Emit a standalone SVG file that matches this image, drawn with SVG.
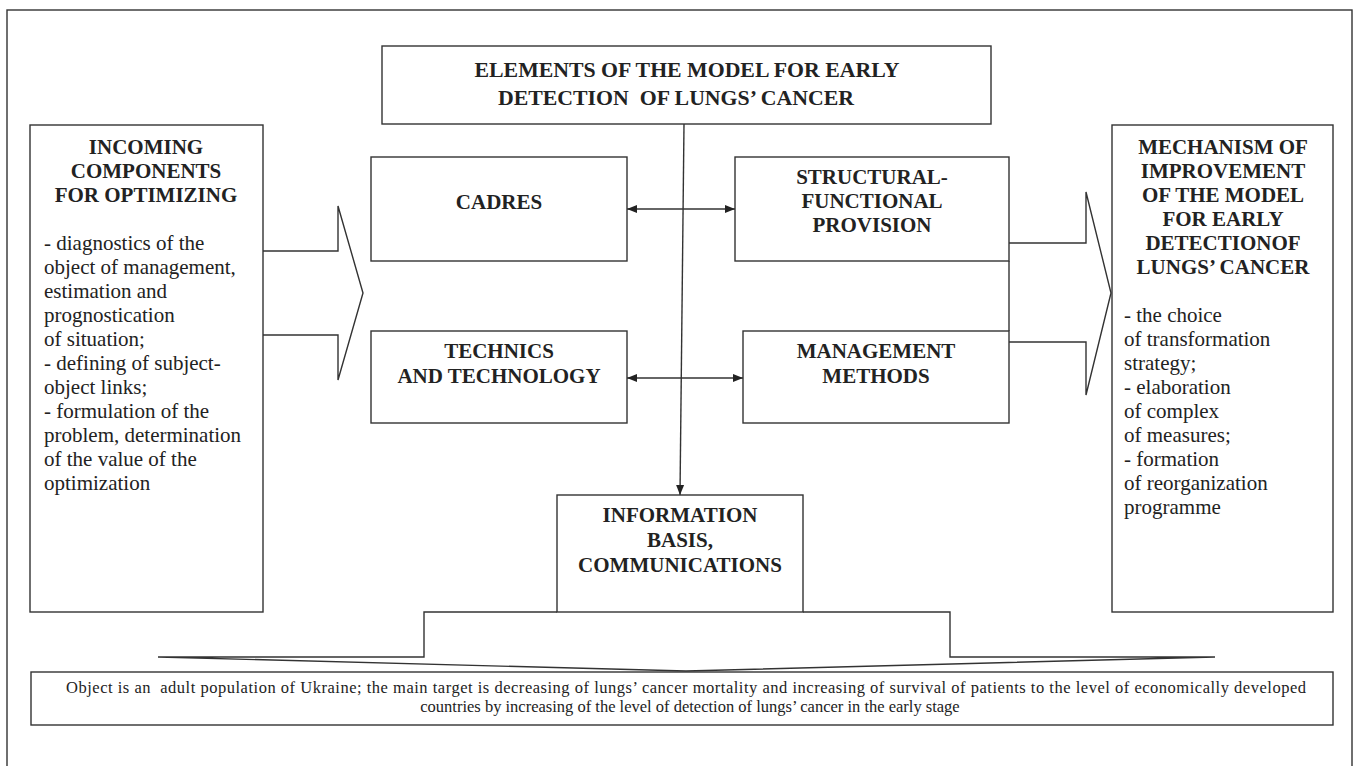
<svg xmlns="http://www.w3.org/2000/svg" width="1359" height="766" viewBox="0 0 1359 766">
<style>
.box{fill:#fff;stroke:#333;stroke-width:1.4}
.ln{fill:none;stroke:#333;stroke-width:1.4}
text{font-family:'Liberation Serif','DejaVu Serif',serif;fill:#222}
.b{font-weight:bold;font-size:21px;text-anchor:middle}
.bt{font-size:21.8px}
.r{font-size:21px}
.s{font-size:16.5px;text-anchor:middle}
</style>
<defs>
<marker id="ah" viewBox="0 0 10 10" refX="10" refY="5" markerWidth="10" markerHeight="10" markerUnits="userSpaceOnUse" orient="auto-start-reverse">
<path d="M0,1 L10,5 L0,9 Z" fill="#222"/>
</marker>
</defs>
<rect x="0" y="0" width="1359" height="766" fill="#fff"/>
<rect x="7" y="10" width="1345" height="780" class="ln"/>

<g id="connectors">
<polyline class="ln" points="263,251 338,251 338,206 363,293 338,380 338,335 263,335"/>
<polyline class="ln" points="1009,243 1086,243 1086,192 1111,293 1086,395 1086,342 1009,342"/>
<line class="ln" x1="1009" y1="261" x2="1009" y2="331"/>
<line class="ln" x1="627" y1="209" x2="735" y2="209" marker-start="url(#ah)" marker-end="url(#ah)"/>
<line class="ln" x1="627" y1="378" x2="743" y2="378" marker-start="url(#ah)" marker-end="url(#ah)"/>
<line class="ln" x1="684" y1="124" x2="680" y2="495" marker-end="url(#ah)"/>
<polyline class="ln" points="557,612 424,612 424,657 158,657 686,671 1215,657 950,657 950,612 803,612"/>
</g>

<g id="top" font-family="'Liberation Serif', serif">
<rect class="box" x="382" y="46" width="609" height="78"/>
<text class="b bt" x="687" y="77">ELEMENTS OF THE MODEL FOR EARLY</text>
<text class="b bt" x="676" y="105" xml:space="preserve">DETECTION  OF LUNGS’ CANCER</text>
</g>

<g id="incoming" font-family="'Liberation Serif', serif">
<rect class="box" x="30" y="125" width="233" height="487"/>
<text class="b" x="146" y="154">INCOMING</text>
<text class="b" x="146" y="178">COMPONENTS</text>
<text class="b" x="146" y="202">FOR OPTIMIZING</text>
<text class="r" x="44" y="250">- diagnostics of the</text>
<text class="r" x="44" y="274">object of management,</text>
<text class="r" x="44" y="298">estimation and</text>
<text class="r" x="44" y="322">prognostication</text>
<text class="r" x="44" y="346">of situation;</text>
<text class="r" x="44" y="370">- defining of subject-</text>
<text class="r" x="44" y="394">object links;</text>
<text class="r" x="44" y="418">- formulation of the</text>
<text class="r" x="44" y="442">problem, determination</text>
<text class="r" x="44" y="466">of the value of the</text>
<text class="r" x="44" y="490">optimization</text>
</g>

<g id="cadres" font-family="'Liberation Serif', serif">
<rect class="box" x="371" y="157" width="256" height="104"/>
<text class="b" x="499" y="209">CADRES</text>
</g>

<g id="structural" font-family="'Liberation Serif', serif">
<rect class="box" x="735" y="157" width="274" height="104"/>
<text class="b" x="872" y="184">STRUCTURAL-</text>
<text class="b" x="872" y="208">FUNCTIONAL</text>
<text class="b" x="872" y="232">PROVISION</text>
</g>

<g id="technics" font-family="'Liberation Serif', serif">
<rect class="box" x="371" y="331" width="256" height="92"/>
<text class="b" x="499" y="358">TECHNICS</text>
<text class="b" x="499" y="383">AND TECHNOLOGY</text>
</g>

<g id="management" font-family="'Liberation Serif', serif">
<rect class="box" x="743" y="331" width="266" height="92"/>
<text class="b" x="876" y="358">MANAGEMENT</text>
<text class="b" x="876" y="383">METHODS</text>
</g>

<g id="information" font-family="'Liberation Serif', serif">
<rect class="box" x="557" y="495" width="246" height="117"/>
<text class="b" x="680" y="522">INFORMATION</text>
<text class="b" x="680" y="547">BASIS,</text>
<text class="b" x="680" y="572">COMMUNICATIONS</text>
</g>

<g id="mechanism" font-family="'Liberation Serif', serif">
<rect class="box" x="1112" y="125" width="221" height="487"/>
<text class="b" x="1223" y="154">MECHANISM OF</text>
<text class="b" x="1223" y="178">IMPROVEMENT</text>
<text class="b" x="1223" y="202">OF THE MODEL</text>
<text class="b" x="1223" y="226">FOR EARLY</text>
<text class="b" x="1223" y="250">DETECTIONOF</text>
<text class="b" x="1223" y="274">LUNGS’ CANCER</text>
<text class="r" x="1124" y="322">- the choice</text>
<text class="r" x="1124" y="346">of transformation</text>
<text class="r" x="1124" y="370">strategy;</text>
<text class="r" x="1124" y="394">- elaboration</text>
<text class="r" x="1124" y="418">of complex</text>
<text class="r" x="1124" y="442">of measures;</text>
<text class="r" x="1124" y="466">- formation</text>
<text class="r" x="1124" y="490">of reorganization</text>
<text class="r" x="1124" y="514">programme</text>
</g>

<g id="object" font-family="'Liberation Serif', serif">
<rect class="box" x="31" y="672" width="1302" height="53"/>
<text class="s" x="686" y="693" textLength="1240" lengthAdjust="spacing" xml:space="preserve">Object is an  adult population of Ukraine; the main target is decreasing of lungs’ cancer mortality and increasing of survival of patients to the level of economically developed</text>
<text class="s" x="690" y="712">countries by increasing of the level of detection of lungs’ cancer in the early stage</text>
</g>
</svg>
